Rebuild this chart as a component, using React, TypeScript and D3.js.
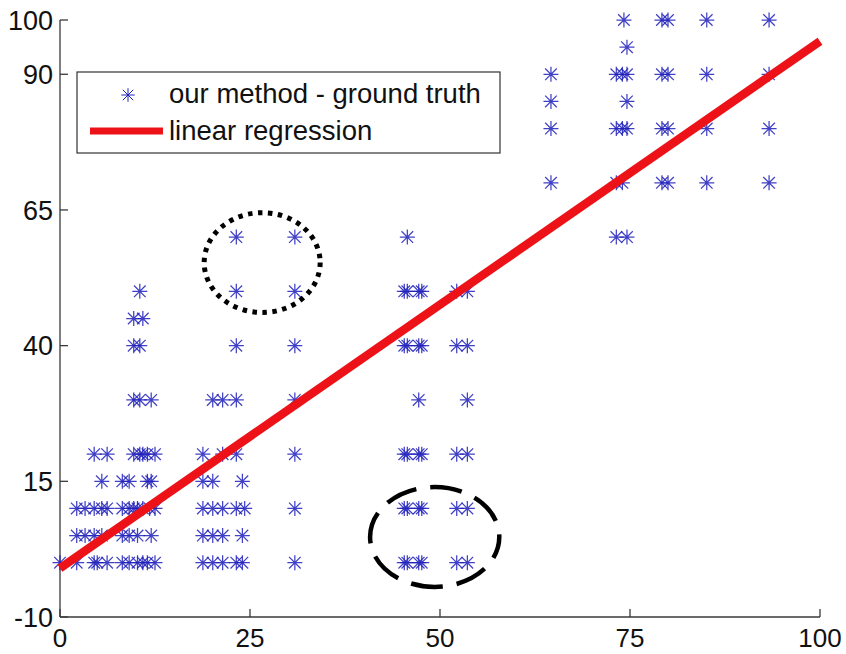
import React from "react";
import * as d3 from "d3";

// ---- data ----
const X_TICKS = [0, 25, 50, 75, 100];
const Y_TICKS = [-10, 15, 40, 65, 90, 100];

// y levels (our method) and the x values (ground truth) of the points at each level
const rowLevels = [0, 5, 10, 15, 20, 30, 40, 45, 50, 60, 70, 80, 85, 90, 95, 100];
const rowXs = [
  [0, 2.2, 4.5, 4.9, 6.2, 8.2, 9.1, 10.2, 10.9, 11.5, 12.5, 18.8, 20.1, 21.4, 23.2, 24.0, 30.9, 45.3, 45.7, 47.2, 47.6, 52.2, 53.6],
  [2.2, 3.3, 4.5, 5.5, 8.2, 9.1, 10.2, 12.0, 18.8, 20.1, 21.4, 24.0],
  [2.2, 3.3, 4.5, 5.5, 6.2, 8.2, 9.1, 9.7, 10.2, 10.9, 11.8, 12.5, 18.8, 20.1, 21.4, 23.2, 24.3, 30.9, 45.3, 45.7, 47.2, 47.6, 52.2, 53.6],
  [5.5, 8.2, 9.1, 11.5, 12.0, 18.8, 20.1, 24.0],
  [4.5, 6.2, 9.7, 10.5, 10.9, 11.5, 12.5, 18.8, 21.4, 23.2, 30.9, 45.3, 45.7, 47.2, 47.6, 52.2, 53.6],
  [9.7, 10.5, 12.0, 20.1, 21.4, 23.2, 30.9, 47.2, 53.6],
  [9.7, 10.5, 23.2, 30.9, 45.3, 45.7, 47.2, 47.6, 52.2, 53.6],
  [9.7, 10.9],
  [10.5, 23.2, 30.9, 45.3, 45.7, 47.2, 47.6, 52.2, 53.6],
  [23.2, 30.9, 45.7, 73.2, 74.6],
  [64.6, 73.2, 74.0, 79.2, 80.0, 85.1, 93.3],
  [64.6, 73.2, 74.0, 74.6, 79.2, 80.0, 85.1, 93.3],
  [64.6, 74.6],
  [64.6, 73.2, 74.0, 74.6, 79.2, 80.0, 85.1, 93.3],
  [74.6],
  [74.2, 79.2, 80.0, 85.1, 93.3],
];

const regressionX = [0, 100];
const regressionY = [-1, 96.1];

// annotation ellipses: [cx, cy, rx, ry] in data units
const dottedEllipse = [26.6, 55.3, 7.63, 9.2];
const dashedEllipse = [49.3, 4.74, 8.5, 9.2];

const legendLabels = ["our method - ground truth", "linear regression"];

const FONT = "'Liberation Sans', Arial, Helvetica, sans-serif";

export default function App() {
  const W = 846;
  const H = 654;
  const x = d3.scaleLinear().domain([0, 100]).range([60, 820]);
  const y = d3.scaleLinear().domain([-10, 100]).range([617, 20]);

  const points: { gx: number; gy: number }[] = [];
  rowLevels.forEach((lv, i) => rowXs[i].forEach((gx) => points.push({ gx, gy: lv })));

  const a = 7.5;
  const b = 5.8;
  const star = `M${-a},0L${a},0M0,${-a}L0,${a}M${-b},${-b}L${b},${b}M${-b},${b}L${b},${-b}`;

  const line = d3
    .line<number>()
    .x((d) => x(regressionX[d]))
    .y((d) => y(regressionY[d]));

  const axisColor = "#3a3a3a";
  const x0 = x(0);
  const y0 = y(-10);

  const ell = (e: number[]) => ({
    cx: x(e[0]),
    cy: y(e[1]),
    rx: x(e[0] + e[2]) - x(e[0]),
    ry: y(e[1]) - y(e[1] + e[3]),
  });
  const dot = ell(dottedEllipse);
  const dash = ell(dashedEllipse);

  return (
    <svg
      width={W}
      height={H}
      style={{ position: "absolute", left: 0, top: 0, background: "#fff" }}
      fontFamily={FONT}
    >
      <rect x={0} y={0} width={W} height={H} fill="#fff" />
      {/* axes */}
      <line x1={x0} x2={x0} y1={y(100)} y2={y0} stroke={axisColor} strokeWidth={1.3} />
      <line x1={x0} x2={x(100)} y1={y0} y2={y0} stroke={axisColor} strokeWidth={1.3} />
      {Y_TICKS.map((t) => (
        <g key={"yt" + t}>
          <line x1={x0} x2={x0 + 8} y1={y(t)} y2={y(t)} stroke={axisColor} strokeWidth={1.3} />
          <text x={53} y={y(t)} dy="0.36em" textAnchor="end" fontSize={27} fill="#111">
            {t}
          </text>
        </g>
      ))}
      {X_TICKS.map((t) => (
        <g key={"xt" + t}>
          <line x1={x(t)} x2={x(t)} y1={y0} y2={y0 - 8} stroke={axisColor} strokeWidth={1.3} />
          <text x={x(t)} y={647} textAnchor="middle" fontSize={26} fill="#111">
            {t}
          </text>
        </g>
      ))}

      {/* points */}
      <g stroke="#2020bb" strokeWidth={1.25} fill="none" strokeOpacity={0.85}>
        {points.map((p, i) => (
          <path key={i} d={star} transform={`translate(${x(p.gx)},${y(p.gy)})`} />
        ))}
      </g>

      {/* regression line */}
      <path d={line([0, 1]) || ""} stroke="#ec1218" strokeWidth={8.5} fill="none" />

      {/* annotations */}
      <ellipse
        cx={dot.cx}
        cy={dot.cy}
        rx={dot.rx}
        ry={dot.ry}
        fill="none"
        stroke="#000"
        strokeWidth={5}
        strokeDasharray="4.5 5.5"
      />
      <ellipse
        cx={dash.cx}
        cy={dash.cy}
        rx={dash.rx}
        ry={dash.ry}
        fill="none"
        stroke="#000"
        strokeWidth={4.5}
        strokeDasharray="32 14"
        strokeDashoffset={10}
      />

      {/* legend */}
      <rect x={77} y={72} width={423} height={81} fill="#fff" stroke="#333" strokeWidth={1.2} />
      <path d={star} transform="translate(128,95) scale(0.9)" stroke="#2020bb" strokeWidth={1.1} fill="none" />
      <text x={169} y={103} fontSize={27.5} fill="#111">
        {legendLabels[0]}
      </text>
      <line x1={90} x2={163} y1={131} y2={131} stroke="#ec1218" strokeWidth={7} />
      <text x={169} y={140} fontSize={27.5} fill="#111">
        {legendLabels[1]}
      </text>
    </svg>
  );
}
